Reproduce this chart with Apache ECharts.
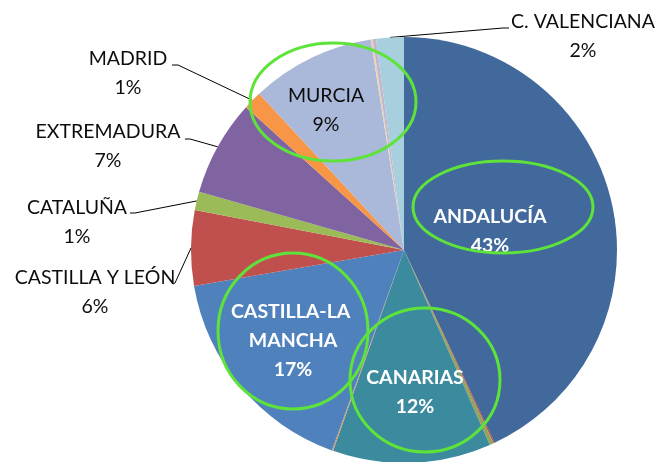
<!DOCTYPE html>
<html>
<head>
<meta charset="utf-8">
<script src="https://cdn.jsdelivr.net/npm/echarts@6/dist/echarts.min.js"></script>
<style>
  html, body { margin: 0; padding: 0; background: #ffffff; }
  #chart { width: 658px; height: 462px; }
</style>
</head>
<body>
<div id="chart"></div>
<script>
// Regional shares (%), clockwise from 12 o'clock
const regions = ['ANDALUCÍA', 'ARAGÓN', 'ASTURIAS', 'CANARIAS', 'CANTABRIA', 'CASTILLA-LA MANCHA',
  'CASTILLA Y LEÓN', 'CATALUÑA', 'EXTREMADURA', 'MADRID', 'MURCIA', 'NAVARRA', 'PAÍS VASCO', 'C. VALENCIANA'];
const shares = [43.0, 0.1, 0.3, 12.0, 0.1, 16.8, 5.7, 1.4, 7.3, 1.4, 9.4, 0.15, 0.25, 2.1];
const sliceColors = ['#41699C', '#B8433F', '#93A55C', '#3C8A9E', '#D39A6A', '#4F81BD',
  '#C0504D', '#9BBB59', '#8064A2', '#F79646', '#AAB9D9', '#E0D8B0', '#C6B3CF', '#A7CFDE'];

// Pie geometry
const CX = 404, CY = 250, R = 213;
const FONT = 'Lato, "Liberation Sans", sans-serif';

// Label placement: block centre and leader-line bend/end points
const labelPlacement = {
  'ANDALUCÍA':          { x: 490, y: 231, inner: true, dark: false },
  'CANARIAS':           { x: 415, y: 392, inner: true, dark: false },
  'CASTILLA-LA MANCHA': { x: 293, y: 341, inner: true, dark: false },
  'MURCIA':             { x: 326, y: 110, inner: true, dark: true },
  'C. VALENCIANA':      { x: 583, y: 36,  line: [[503, 28], [509, 28]] },
  'MADRID':             { x: 128, y: 73,  line: [[178, 65], [172, 65]] },
  'EXTREMADURA':        { x: 108, y: 146, line: [[190, 139], [185, 139]] },
  'CATALUÑA':           { x: 77,  y: 222, line: [[135, 213], [130, 213]] },
  'CASTILLA Y LEÓN':    { x: 95,  y: 292, line: [[175, 283], [173, 284]] }
};

const total = shares.reduce((a, b) => a + b, 0);
function edgePoint(i) {
  let cum = 0;
  for (let k = 0; k < i; k++) cum += shares[k];
  const a = (cum + shares[i] / 2) / total * Math.PI * 2;
  return [CX + R * Math.sin(a), CY - R * Math.cos(a)];
}

const pieData = regions.map((name, i) => {
  const p = labelPlacement[name];
  const item = { name: name, value: shares[i], itemStyle: { color: sliceColors[i] } };
  if (!p) {
    item.label = { show: false };
    item.labelLine = { show: false };
  } else if (p.inner) {
    item.label = {
      show: true, position: 'inside',
      color: p.dark ? '#0d0d0d' : '#ffffff',
      fontWeight: p.dark ? 'normal' : 'bold'
    };
    if (name === 'CASTILLA-LA MANCHA') {
      item.label.width = 130;
      item.label.overflow = 'break';
    }
    item.labelLine = { show: false };
  } else {
    item.label = { show: true, position: 'outside', color: '#0d0d0d' };
    item.labelLine = { show: true };
  }
  return item;
});

const chart = echarts.init(document.getElementById('chart'), null, { renderer: 'canvas' });
chart.setOption({
  backgroundColor: '#ffffff',
  animation: false,
  series: [{
    type: 'pie',
    center: [CX, CY],
    radius: R,
    startAngle: 90,
    clockwise: true,
    avoidLabelOverlap: false,
    percentPrecision: 2,
    itemStyle: { borderWidth: 0 },
    label: {
      fontFamily: FONT,
      fontSize: 19.5,
      lineHeight: 29,
      align: 'center',
      formatter: p => p.name + '\n' + Math.round(p.percent) + '%'
    },
    labelLine: { lineStyle: { color: '#000000', width: 1 }, smooth: false },
    labelLayout: function (params) {
      const name = regions[params.dataIndex];
      const p = labelPlacement[name];
      if (!p) return {};
      const out = { x: p.x, y: p.y, align: 'center', verticalAlign: 'middle' };
      if (p.line) out.labelLinePoints = [edgePoint(params.dataIndex)].concat(p.line);
      return out;
    },
    data: pieData
  }],
  graphic: [
    { type: 'ellipse', z: 100, shape: { cx: 333, cy: 102, rx: 83, ry: 59 },
      style: { fill: 'none', stroke: '#5EE33A', lineWidth: 3 } },
    { type: 'ellipse', z: 100, shape: { cx: 503, cy: 207, rx: 90, ry: 46 },
      style: { fill: 'none', stroke: '#5EE33A', lineWidth: 3 } },
    { type: 'ellipse', z: 100, shape: { cx: 293, cy: 331, rx: 75, ry: 78 },
      style: { fill: 'none', stroke: '#5EE33A', lineWidth: 3 } },
    { type: 'ellipse', z: 100, shape: { cx: 425, cy: 380, rx: 75, ry: 72 },
      style: { fill: 'none', stroke: '#5EE33A', lineWidth: 3 } }
  ]
});
</script>
</body>
</html>
